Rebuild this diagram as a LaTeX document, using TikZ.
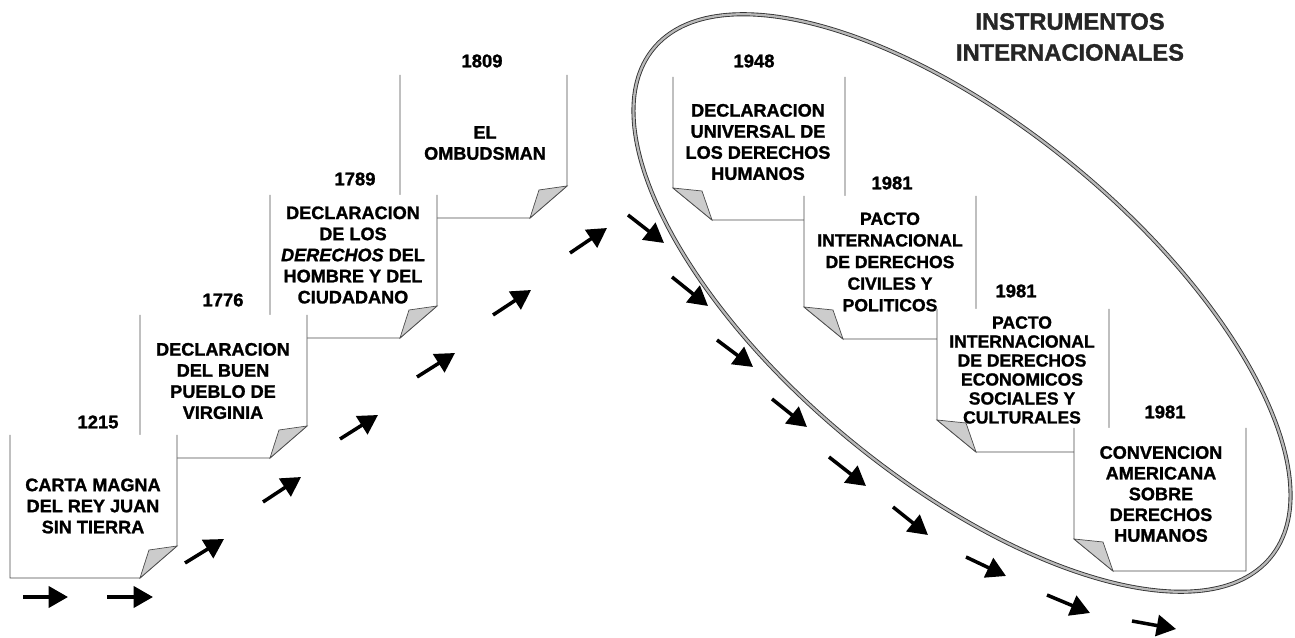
\documentclass[tikz,border=0pt]{standalone}
\usepackage{fontspec}
\setmainfont{Liberation Sans}[BoldFeatures={FakeBold=1.3}, BoldItalicFeatures={FakeBold=1.3}]
\usepackage{tikz}
\usetikzlibrary{arrows.meta}

\tikzset{
    tarjeta/.style={draw=black!70, line width=0.5pt},
    doblez/.style={draw=black!70, fill=gray!40, line width=0.4pt},
    texto/.style={align=center, inner sep=0pt, font=\bfseries\fontsize{10.3}{12}\selectfont},
    anio/.style={inner sep=0pt, font=\bfseries\fontsize{10.5}{12}\selectfont},
    titulo/.style={align=center, inner sep=0pt, text=black!85, font=\bfseries\fontsize{13.5}{17.6}\selectfont},
    flecha/.style={line width=2pt, -{Triangle[length=11pt,width=12pt]}},
    elipse/.style={draw=black!80, line width=0.5pt, double=gray!55, double distance=1.3pt}
}

\begin{document}
\begin{tikzpicture}[x=0.02cm, y=-0.02cm]
    \useasboundingbox (0,0) rectangle (1295,638);

    % Tarjetas de la izquierda
    \foreach \l/\t in {400/75, 270/195, 140/315, 10/435} {
        \fill[white] (\l,\t) -- (\l,\t+143) -- (\l+130,\t+143) -- (\l+167,\t+111) -- (\l+167,\t) -- cycle;
        \draw[tarjeta] (\l,\t) -- (\l,\t+143) -- (\l+130,\t+143) -- (\l+167,\t+111) -- (\l+167,\t);
        \draw[doblez] (\l+130,\t+143) -- (\l+139,\t+115) -- (\l+167,\t+111) -- cycle;
    }

    % Tarjetas de la derecha
    \foreach \l/\t in {673/77, 804/196, 937/309, 1074/428} {
        \fill[white] (\l,\t) -- (\l,\t+111) -- (\l+39,\t+143) -- (\l+172,\t+143) -- (\l+172,\t) -- cycle;
        \draw[tarjeta] (\l,\t) -- (\l,\t+111) -- (\l+39,\t+143) -- (\l+172,\t+143) -- (\l+172,\t);
        \draw[doblez] (\l,\t+111) -- (\l+29,\t+114) -- (\l+39,\t+143) -- cycle;
    }

    % Años
    \node[anio] (a1215) at (98,422) {1215};
    \node[anio] (a1776) at (223,300) {1776};
    \node[anio] (a1789) at (355,179) {1789};
    \node[anio] (a1809) at (482,61) {1809};
    \node[anio] (a1948) at (754,61) {1948};
    \node[anio] (a1981a) at (892,183) {1981};
    \node[anio] (a1981b) at (1016,291) {1981};
    \node[anio] (a1981c) at (1165,412) {1981};

    % Textos
    \node[texto] (carta) at (93,506) {CARTA MAGNA\\DEL REY JUAN\\SIN TIERRA};
    \node[texto] (virginia) at (223,381) {DECLARACION\\DEL BUEN\\PUEBLO DE\\VIRGINIA};
    \node[texto] (hombre) at (353,255) {DECLARACION\\DE LOS\\\textit{DERECHOS} DEL\\HOMBRE Y DEL\\CIUDADANO};
    \node[texto] (ombudsman) at (485,143) {EL\\OMBUDSMAN};
    \node[texto] (universal) at (758,142) {DECLARACION\\UNIVERSAL DE\\LOS DERECHOS\\HUMANOS};
    \node[texto, font=\bfseries\fontsize{10}{12.3}\selectfont] (civiles) at (890,262) {PACTO\\INTERNACIONAL\\DE DERECHOS\\CIVILES Y\\POLITICOS};
    \node[texto, font=\bfseries\fontsize{10}{10.8}\selectfont] (economicos) at (1022,370) {PACTO\\INTERNACIONAL\\DE DERECHOS\\ECONOMICOS\\SOCIALES Y\\CULTURALES};
    \node[texto, font=\bfseries\fontsize{10.3}{11.8}\selectfont] (americana) at (1161,494) {CONVENCION\\AMERICANA\\SOBRE\\DERECHOS\\HUMANOS};

    \node[titulo] (titulo) at (1070,37) {INSTRUMENTOS\\INTERNACIONALES};

    % Elipse
    \draw[elipse, rotate around={-39.5:(962,303)}] (962,303) ellipse [x radius=8cm, y radius=3.54cm];

    % Flechas
    \foreach \a/\b/\c/\d in {23/597/68/597, 107/597/153/597, 185/563/224/539, 263/502/301/477,
        340/439/378/415, 417/377/455/353, 493/315/531/290, 570/253/607/228}
        \draw[flecha] (\a,\b) -- (\c,\d);
    \foreach \a/\b/\c/\d in {628/215/664/243, 672/277/708/306, 717/340/753/367, 772/399/807/427,
        829/457/866/486, 893/507/928/535, 966/557/1006/576, 1047/595/1090/613, 1132/621/1176/629}
        \draw[flecha] (\a,\b) -- (\c,\d);

\end{tikzpicture}
\end{document}
